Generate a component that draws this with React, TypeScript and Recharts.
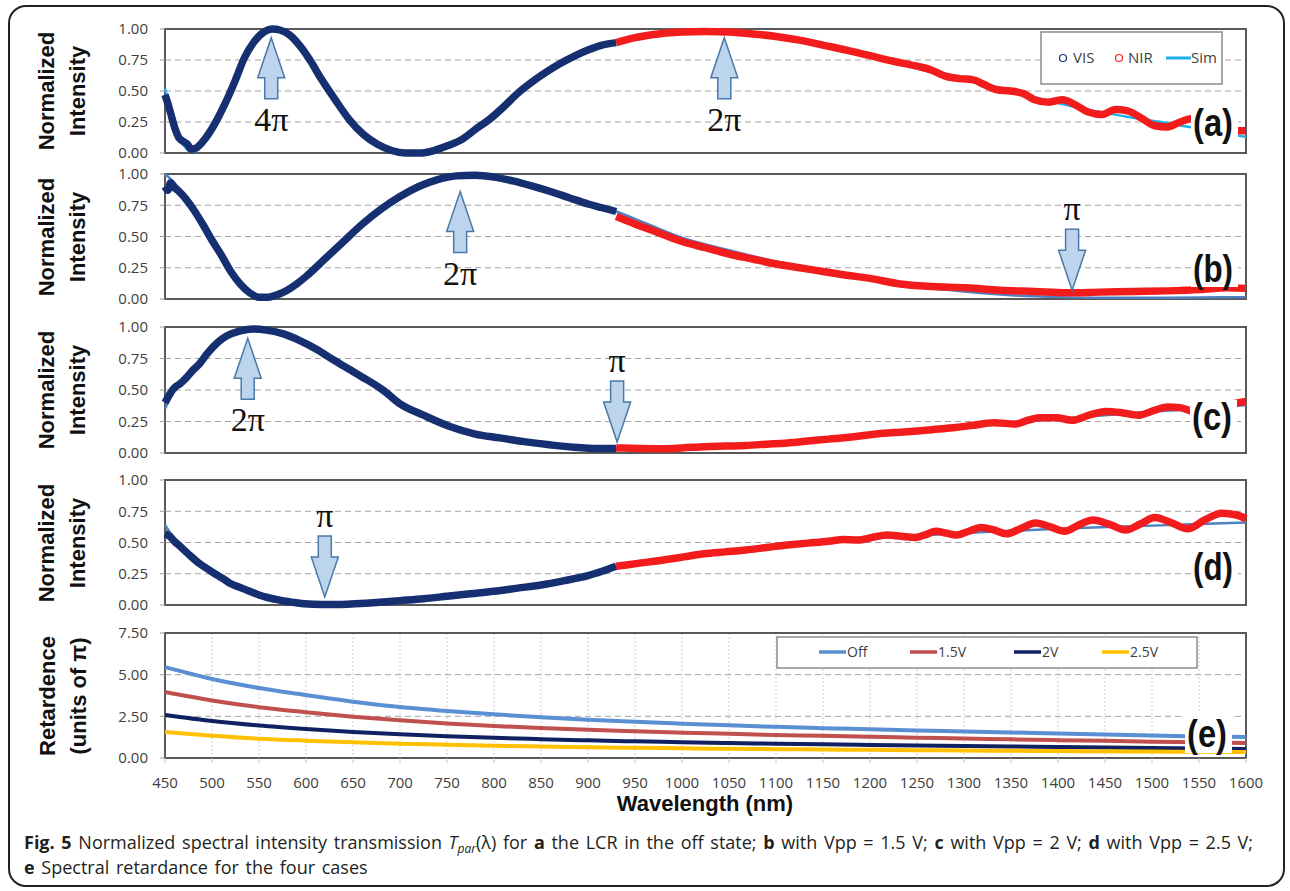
import { LineChart, Line, XAxis, YAxis, CartesianGrid, ReferenceArea, ReferenceDot } from 'recharts'

type Pt = [number, number]

const X_TICKS = [450, 500, 550, 600, 650, 700, 750, 800, 850, 900, 950, 1000, 1050, 1100, 1150, 1200, 1250, 1300, 1350, 1400, 1450, 1500, 1550, 1600]
const INT_TICKS = [0, 0.25, 0.5, 0.75, 1]
const RET_TICKS = [0, 2.5, 5, 7.5]

// (a) off state
const A_VIS: Pt[] = [
  [450, 0.47], [453, 0.4], [456, 0.32], [461, 0.19], [465, 0.12], [470, 0.09], [474, 0.07], [478, 0.03], [483, 0.04], [490, 0.09],
  [501, 0.21], [514, 0.4], [525, 0.59], [534, 0.76], [545, 0.9], [556, 0.98], [564, 1.0], [573, 0.99], [583, 0.95], [594, 0.86],
  [605, 0.74], [616, 0.6], [631, 0.43], [646, 0.27], [661, 0.15], [676, 0.07], [691, 0.02], [706, 0.0], [721, 0.0], [736, 0.02],
  [751, 0.06], [766, 0.11], [780, 0.19], [795, 0.27], [810, 0.37], [825, 0.48], [840, 0.57], [855, 0.65], [870, 0.72], [885, 0.78],
  [900, 0.83], [915, 0.87], [930, 0.89],
]
const A_NIR: Pt[] = [
  [930, 0.89], [950, 0.93], [975, 0.96], [1000, 0.975], [1025, 0.98], [1050, 0.975], [1075, 0.96], [1100, 0.94], [1125, 0.91],
  [1150, 0.87], [1175, 0.83], [1200, 0.785], [1225, 0.74], [1250, 0.7], [1265, 0.67], [1280, 0.62], [1295, 0.6], [1310, 0.59],
  [1322, 0.55], [1335, 0.51], [1350, 0.5], [1363, 0.48], [1375, 0.43], [1390, 0.41], [1405, 0.43], [1418, 0.39], [1432, 0.33],
  [1447, 0.31], [1461, 0.35], [1474, 0.34], [1489, 0.28], [1503, 0.22], [1516, 0.21], [1530, 0.25], [1545, 0.28], [1560, 0.27],
  [1575, 0.22], [1590, 0.18], [1600, 0.18],
]
const A_SIM: Pt[] = [
  [450, 0.52], [457, 0.33], [464, 0.16], [471, 0.05], [478, 0.01], [484, 0.02], [490, 0.08], [501, 0.21], [514, 0.4], [525, 0.59],
  [534, 0.76], [545, 0.9], [556, 0.98], [564, 1.0], [573, 0.99], [583, 0.95], [594, 0.86], [605, 0.74], [616, 0.6], [631, 0.43],
  [646, 0.27], [661, 0.15], [676, 0.07], [691, 0.02], [706, 0.0], [721, 0.0], [736, 0.02], [751, 0.06], [766, 0.11], [780, 0.19],
  [795, 0.27], [810, 0.37], [825, 0.48], [840, 0.57], [855, 0.65], [870, 0.72], [885, 0.78], [900, 0.83], [930, 0.89], [975, 0.96],
  [1025, 0.98], [1075, 0.96], [1125, 0.91], [1175, 0.83], [1225, 0.74], [1275, 0.65], [1325, 0.55], [1375, 0.45], [1425, 0.36],
  [1475, 0.29], [1525, 0.23], [1575, 0.16], [1600, 0.13],
]

// (b) Vpp = 1.5 V
const B_VIS: Pt[] = [
  [450, 0.9], [453, 0.87], [456, 0.93], [459, 0.9], [465, 0.86], [470, 0.82], [480, 0.72], [490, 0.6], [500, 0.47], [510, 0.35],
  [520, 0.22], [530, 0.12], [540, 0.05], [550, 0.015], [560, 0.015], [570, 0.035], [580, 0.07], [590, 0.12], [600, 0.18], [620, 0.32],
  [640, 0.46], [660, 0.6], [680, 0.72], [700, 0.82], [720, 0.9], [740, 0.955], [760, 0.985], [780, 0.99], [800, 0.975], [820, 0.945],
  [840, 0.905], [860, 0.86], [880, 0.81], [900, 0.76], [915, 0.73], [930, 0.7],
]
const B_NIR: Pt[] = [
  [930, 0.66], [950, 0.6], [975, 0.53], [1000, 0.46], [1025, 0.41], [1050, 0.36], [1075, 0.32], [1100, 0.28], [1125, 0.25],
  [1150, 0.22], [1175, 0.19], [1200, 0.165], [1232, 0.12], [1267, 0.1], [1303, 0.09], [1338, 0.07], [1375, 0.06], [1409, 0.05],
  [1445, 0.055], [1480, 0.06], [1515, 0.065], [1551, 0.075], [1580, 0.09], [1600, 0.085],
]
const B_SIM: Pt[] = [
  [450, 1.0], [460, 0.93], [470, 0.84], [480, 0.73], [500, 0.47], [520, 0.22], [540, 0.05], [555, 0.0], [570, 0.03], [600, 0.18],
  [640, 0.46], [680, 0.72], [720, 0.9], [765, 0.99], [800, 0.975], [850, 0.885], [900, 0.77], [930, 0.7], [960, 0.61], [1000, 0.49],
  [1050, 0.39], [1100, 0.3], [1150, 0.23], [1200, 0.16], [1250, 0.1], [1300, 0.06], [1350, 0.03], [1400, 0.015], [1450, 0.01],
  [1500, 0.01], [1550, 0.012], [1600, 0.015],
]

// (c) Vpp = 2 V
const C_VIS: Pt[] = [
  [450, 0.4], [453, 0.44], [458, 0.5], [462, 0.53], [466, 0.55], [473, 0.6], [480, 0.66], [487, 0.71], [494, 0.78], [501, 0.84],
  [508, 0.89], [516, 0.93], [530, 0.97], [544, 0.985], [558, 0.975], [576, 0.945], [594, 0.89], [612, 0.82], [629, 0.74], [647, 0.66],
  [665, 0.58], [682, 0.5], [700, 0.39], [725, 0.3], [753, 0.21], [780, 0.15], [806, 0.12], [832, 0.09], [859, 0.065], [885, 0.045],
  [912, 0.035], [930, 0.035],
]
const C_NIR: Pt[] = [
  [930, 0.04], [955, 0.036], [980, 0.034], [1000, 0.04], [1024, 0.05], [1046, 0.055], [1068, 0.06], [1090, 0.07], [1112, 0.08],
  [1134, 0.095], [1156, 0.11], [1178, 0.125], [1200, 0.145], [1222, 0.16], [1244, 0.17], [1266, 0.185], [1288, 0.2], [1310, 0.22],
  [1332, 0.24], [1354, 0.23], [1368, 0.26], [1380, 0.28], [1398, 0.28], [1415, 0.26], [1433, 0.3], [1451, 0.33], [1468, 0.32],
  [1486, 0.3], [1503, 0.34], [1517, 0.365], [1530, 0.36], [1543, 0.33], [1560, 0.32], [1580, 0.38], [1600, 0.41],
]
const C_SIM: Pt[] = [
  [450, 0.35], [460, 0.5], [475, 0.62], [490, 0.75], [505, 0.87], [520, 0.94], [540, 0.985], [560, 0.975], [600, 0.87], [650, 0.65],
  [700, 0.38], [750, 0.22], [800, 0.12], [850, 0.07], [900, 0.04], [930, 0.03], [1000, 0.035], [1100, 0.07], [1200, 0.14],
  [1300, 0.21], [1400, 0.27], [1450, 0.3], [1500, 0.33], [1550, 0.35], [1600, 0.38],
]

// (d) Vpp = 2.5 V
const D_VIS: Pt[] = [
  [450, 0.57], [455, 0.55], [460, 0.51], [466, 0.47], [476, 0.4], [487, 0.33], [495, 0.29], [503, 0.25], [512, 0.21], [520, 0.17],
  [530, 0.14], [540, 0.11], [550, 0.08], [559, 0.06], [568, 0.045], [578, 0.03], [588, 0.02], [598, 0.01], [617, 0.005], [635, 0.005],
  [652, 0.01], [675, 0.02], [700, 0.035], [725, 0.05], [750, 0.07], [775, 0.09], [800, 0.11], [825, 0.135], [850, 0.16], [875, 0.195],
  [900, 0.235], [915, 0.27], [930, 0.31],
]
const D_NIR: Pt[] = [
  [930, 0.31], [955, 0.335], [980, 0.36], [1002, 0.385], [1024, 0.41], [1046, 0.425], [1068, 0.44], [1090, 0.46], [1112, 0.48],
  [1134, 0.495], [1156, 0.51], [1172, 0.525], [1187, 0.52], [1202, 0.54], [1218, 0.56], [1233, 0.55], [1248, 0.54], [1260, 0.565],
  [1270, 0.59], [1281, 0.575], [1292, 0.56], [1305, 0.59], [1318, 0.62], [1332, 0.6], [1345, 0.57], [1360, 0.61], [1376, 0.655],
  [1392, 0.625], [1407, 0.59], [1422, 0.64], [1437, 0.68], [1455, 0.645], [1472, 0.6], [1488, 0.65], [1503, 0.7], [1520, 0.66],
  [1538, 0.61], [1556, 0.68], [1574, 0.735], [1590, 0.72], [1600, 0.69],
]
const D_SIM: Pt[] = [
  [450, 0.64], [460, 0.53], [475, 0.41], [500, 0.26], [525, 0.16], [550, 0.08], [575, 0.03], [600, 0.01], [625, 0.0], [650, 0.005],
  [700, 0.035], [750, 0.07], [800, 0.11], [850, 0.16], [900, 0.235], [930, 0.31], [1000, 0.39], [1100, 0.47], [1200, 0.53],
  [1300, 0.575], [1400, 0.61], [1500, 0.635], [1600, 0.66],
]

// (e) retardance, units of pi
const RET_WL = [450, 500, 550, 600, 650, 700, 750, 800, 850, 900, 950, 1000, 1050, 1100, 1150, 1200, 1250, 1300, 1350, 1400, 1450, 1500, 1550, 1600]
const RET_OFF = [5.45, 4.74, 4.2, 3.78, 3.38, 3.06, 2.82, 2.62, 2.45, 2.3, 2.17, 2.06, 1.96, 1.87, 1.79, 1.72, 1.65, 1.59, 1.53, 1.47, 1.41, 1.35, 1.3, 1.26]
const RET_15 = [3.96, 3.45, 3.05, 2.75, 2.48, 2.26, 2.07, 1.92, 1.8, 1.69, 1.6, 1.52, 1.45, 1.38, 1.33, 1.27, 1.22, 1.17, 1.12, 1.07, 1.03, 0.98, 0.94, 0.9]
const RET_2 = [2.58, 2.22, 1.95, 1.74, 1.56, 1.42, 1.31, 1.21, 1.13, 1.06, 1.0, 0.95, 0.9, 0.86, 0.82, 0.78, 0.75, 0.72, 0.69, 0.66, 0.63, 0.6, 0.57, 0.54]
const RET_25 = [1.56, 1.34, 1.16, 1.04, 0.94, 0.86, 0.8, 0.74, 0.69, 0.65, 0.61, 0.58, 0.55, 0.53, 0.51, 0.49, 0.47, 0.45, 0.43, 0.42, 0.4, 0.39, 0.37, 0.36]

const COLORS = {
  vis: '#152f70',
  nir: '#f21c1c',
  simA: '#1cb0ee',
  sim: '#4f81c2',
  off: '#5a8fd3',
  v15: '#c0504d',
  v2: '#0f2160',
  v25: '#ffc000',
  frame: '#595959',
  tick: '#404040',
}

const FONT = '"Open Sans", "DejaVu Sans", sans-serif'
const BOLD = '"Liberation Sans", Arial, sans-serif'

const toPts = (arr: Pt[]) => arr.map(([w, v]) => ({ w, v }))
const retData = RET_WL.map((w, i) => ({ w, off: RET_OFF[i], v15: RET_15[i], v2: RET_2[i], v25: RET_25[i] }))

interface ArrowSpec { w: number; v: number; dir: 'up' | 'down'; text: string }

// block arrow, tip at (cx, cy)
function BlockArrow({ cx, cy, dir, text }: { cx?: number; cy?: number; dir: 'up' | 'down'; text: string }) {
  if (cx == null || cy == null) return null
  const s = dir === 'up' ? 1 : -1
  const hw = 13.5, sw = 6.5, head = 40, shaft = 21
  const pts = [
    [cx, cy], [cx + hw, cy + s * head], [cx + sw, cy + s * head], [cx + sw, cy + s * (head + shaft)],
    [cx - sw, cy + s * (head + shaft)], [cx - sw, cy + s * head], [cx - hw, cy + s * head],
  ].map(p => p.join(',')).join(' ')
  const ty = dir === 'up' ? cy + 93 : cy - 70
  return (
    <g>
      <polygon points={pts} fill="#bcd4ec" stroke="#4a79aa" strokeWidth={1.5} />
      <text x={cx} y={ty} textAnchor="middle" fontFamily='"Liberation Serif", "DejaVu Serif", serif' fontSize={34} fill="#111">{text}</text>
    </g>
  )
}

function IntensityPanel({ top, plotH, vis, nir, sim, simColor, arrows }: {
  top: number; plotH: number; vis: Pt[]; nir: Pt[]; sim: Pt[]; simColor: string; arrows: ArrowSpec[]
}) {
  return (
    <div style={{ position: 'absolute', left: 0, top: top - 10 }}>
      <LineChart width={1290} height={10 + plotH + 12} margin={{ top: 10, right: 44, bottom: 0, left: 0 }}>
        <CartesianGrid horizontal={false} stroke="#cdcdcd" strokeDasharray="2 2" />
        <CartesianGrid vertical={false} stroke="#a3a3a3" strokeDasharray="6 4" />
        <XAxis dataKey="w" type="number" domain={[450, 1600]} ticks={X_TICKS} tick={false} axisLine={false}
          tickLine={{ stroke: '#c4c4c4' }} tickSize={5} height={12} />
        <YAxis type="number" domain={[0, 1]} ticks={INT_TICKS} interval={0} width={165} axisLine={false}
          tickLine={{ stroke: '#9a9a9a' }} tickSize={5} tickMargin={12}
          tick={{ fill: COLORS.tick, fontSize: 15, fontFamily: FONT }} tickFormatter={(v: number) => v.toFixed(2)} />
        <ReferenceArea x1={450} x2={1600} y1={0} y2={1} fill="none" stroke={COLORS.frame} strokeWidth={2} />
        <Line data={toPts(sim)} dataKey="v" type="monotone" stroke={simColor} strokeWidth={2.5} dot={false} activeDot={false} isAnimationActive={false} />
        <Line data={toPts(vis)} dataKey="v" type="monotone" stroke={COLORS.vis} strokeWidth={7.5} dot={false} activeDot={false} isAnimationActive={false} />
        <Line data={toPts(nir)} dataKey="v" type="monotone" stroke={COLORS.nir} strokeWidth={7.5} dot={false} activeDot={false} isAnimationActive={false} />
        {arrows.map(a => (
          <ReferenceDot key={a.w} x={a.w} y={a.v} r={1}
            shape={(p: { cx?: number; cy?: number }) => <BlockArrow cx={p.cx} cy={p.cy} dir={a.dir} text={a.text} />} />
        ))}
      </LineChart>
    </div>
  )
}

function RetardancePanel() {
  return (
    <div style={{ position: 'absolute', left: 0, top: 633 - 10 }}>
      <LineChart width={1290} height={10 + 125 + 34} data={retData} margin={{ top: 10, right: 44, bottom: 0, left: 0 }}>
        <CartesianGrid horizontal={false} stroke="#cdcdcd" strokeDasharray="2 2" />
        <CartesianGrid vertical={false} stroke="#a3a3a3" strokeDasharray="6 4" />
        <XAxis dataKey="w" type="number" domain={[450, 1600]} ticks={X_TICKS} interval={0} axisLine={false}
          tickLine={{ stroke: '#c4c4c4' }} tickSize={5} tickMargin={14} height={34}
          tick={{ fill: COLORS.tick, fontSize: 15, fontFamily: FONT }} />
        <YAxis type="number" domain={[0, 7.5]} ticks={RET_TICKS} interval={0} width={165} axisLine={false}
          tickLine={{ stroke: '#9a9a9a' }} tickSize={5} tickMargin={12}
          tick={{ fill: COLORS.tick, fontSize: 15, fontFamily: FONT }} tickFormatter={(v: number) => v.toFixed(2)} />
        <ReferenceArea x1={450} x2={1600} y1={0} y2={7.5} fill="none" stroke={COLORS.frame} strokeWidth={2} />
        <Line dataKey="off" type="monotone" stroke={COLORS.off} strokeWidth={4} dot={false} activeDot={false} isAnimationActive={false} />
        <Line dataKey="v15" type="monotone" stroke={COLORS.v15} strokeWidth={4} dot={false} activeDot={false} isAnimationActive={false} />
        <Line dataKey="v2" type="monotone" stroke={COLORS.v2} strokeWidth={4} dot={false} activeDot={false} isAnimationActive={false} />
        <Line dataKey="v25" type="monotone" stroke={COLORS.v25} strokeWidth={4} dot={false} activeDot={false} isAnimationActive={false} />
      </LineChart>
    </div>
  )
}

const PANEL_LABELS = [
  { t: '(a)', x: 1193, y: 136, bx: 1191, by: 104, bh: 44 },
  { t: '(b)', x: 1193, y: 282, bx: 1191, by: 254, bh: 33 },
  { t: '(c)', x: 1192, y: 430, bx: 1190, by: 400, bh: 40 },
  { t: '(d)', x: 1193, y: 580, bx: 1191, by: 550, bh: 40 },
  { t: '(e)', x: 1187, y: 747, bx: 1185, by: 713, bh: 40 },
]

function AxisTitle({ x1, x2, cy, l1, l2 }: { x1: number; x2: number; cy: number; l1: string; l2: string }) {
  return (
    <g fontFamily={BOLD} fontWeight="bold" fontSize={22} fill="#111" textAnchor="middle">
      <text transform={`translate(${x1},${cy}) rotate(-90)`}>{l1}</text>
      <text transform={`translate(${x2},${cy}) rotate(-90)`}>{l2}</text>
    </g>
  )
}

function Overlay() {
  const legE = [
    { name: 'Off', c: COLORS.off, x: 819 },
    { name: '1.5V', c: COLORS.v15, x: 910 },
    { name: '2V', c: COLORS.v2, x: 1014 },
    { name: '2.5V', c: COLORS.v25, x: 1102 },
  ]
  return (
    <svg width={1290} height={891} style={{ position: 'absolute', left: 0, top: 0, pointerEvents: 'none' }}>
      <AxisTitle x1={54} x2={85} cy={91} l1="Normalized" l2="Intensity" />
      <AxisTitle x1={54} x2={85} cy={237} l1="Normalized" l2="Intensity" />
      <AxisTitle x1={54} x2={85} cy={390} l1="Normalized" l2="Intensity" />
      <AxisTitle x1={54} x2={85} cy={543} l1="Normalized" l2="Intensity" />
      <AxisTitle x1={55} x2={86} cy={696} l1="Retardence" l2="(units of π)" />
      <text x={705} y={811} textAnchor="middle" fontFamily={BOLD} fontWeight="bold" fontSize={22} fill="#111">Wavelength (nm)</text>

      {PANEL_LABELS.map(l => (
        <g key={l.t}>
          <rect x={l.bx} y={l.by} width={47} height={l.bh} fill="#fff" />
          <text x={l.x} y={l.y} fontFamily={BOLD} fontWeight="bold" fontSize={38} fill="#111"
            textLength={40} lengthAdjust="spacingAndGlyphs">{l.t}</text>
        </g>
      ))}

      <g fontFamily={FONT} fontSize={15} fill={COLORS.tick}>
        <rect x={1041} y={32} width={181} height={52} fill="#fff" stroke="#8c8c8c" strokeWidth={1.5} />
        <circle cx={1063} cy={58} r={3.5} fill="none" stroke={COLORS.vis} strokeWidth={1.2} />
        <text x={1073} y={63}>VIS</text>
        <circle cx={1119} cy={58} r={3.5} fill="none" stroke={COLORS.nir} strokeWidth={1.2} />
        <text x={1128} y={63}>NIR</text>
        <line x1={1166} x2={1191} y1={58} y2={58} stroke={COLORS.simA} strokeWidth={3} />
        <text x={1191} y={63}>Sim</text>
      </g>
      <g fontFamily={FONT} fontSize={14} fill={COLORS.tick}>
        <rect x={777} y={637} width={420} height={31} fill="#fff" stroke="#8c8c8c" strokeWidth={1.5} />
        {legE.map(e => (
          <g key={e.name}>
            <line x1={e.x} x2={e.x + 27} y1={652} y2={652} stroke={e.c} strokeWidth={3.5} />
            <text x={e.x + 28} y={657}>{e.name}</text>
          </g>
        ))}
      </g>
    </svg>
  )
}

export default function App() {
  return (
    <div style={{ position: 'absolute', left: 0, top: 0, width: 1290, height: 891, background: '#fff', overflow: 'hidden' }}>
      <div style={{ position: 'absolute', left: 8, top: 5, width: 1277, height: 882, border: '2px solid #222', borderRadius: 18, boxSizing: 'border-box' }} />
      <IntensityPanel top={29} plotH={124} vis={A_VIS} nir={A_NIR} sim={A_SIM} simColor={COLORS.simA}
        arrows={[{ w: 563, v: 0.93, dir: 'up', text: '4π' }, { w: 1045, v: 0.93, dir: 'up', text: '2π' }]} />
      <IntensityPanel top={174} plotH={125} vis={B_VIS} nir={B_NIR} sim={B_SIM} simColor={COLORS.sim}
        arrows={[{ w: 764, v: 0.86, dir: 'up', text: '2π' }, { w: 1415, v: 0.07, dir: 'down', text: 'π' }]} />
      <IntensityPanel top={327} plotH={126} vis={C_VIS} nir={C_NIR} sim={C_SIM} simColor={COLORS.sim}
        arrows={[{ w: 538, v: 0.91, dir: 'up', text: '2π' }, { w: 931, v: 0.087, dir: 'down', text: 'π' }]} />
      <IntensityPanel top={480} plotH={125} vis={D_VIS} nir={D_NIR} sim={D_SIM} simColor={COLORS.sim}
        arrows={[{ w: 620, v: 0.064, dir: 'down', text: 'π' }]} />
      <RetardancePanel />
      <Overlay />
      <div style={{ position: 'absolute', left: 24, top: 830, fontFamily: FONT, fontSize: 18, wordSpacing: 2, lineHeight: '25px', color: '#231f20', whiteSpace: 'nowrap' }}>
        <b>Fig. 5</b> Normalized spectral intensity transmission <i>T</i><i style={{ fontSize: 12, position: 'relative', top: 4, lineHeight: 0 }}>par</i>(λ) for <b>a</b> the LCR in the off state; <b>b</b> with Vpp = 1.5 V; <b>c</b> with Vpp = 2 V; <b>d</b> with Vpp = 2.5 V;<br />
        <b>e</b> Spectral retardance for the four cases
      </div>
    </div>
  )
}
